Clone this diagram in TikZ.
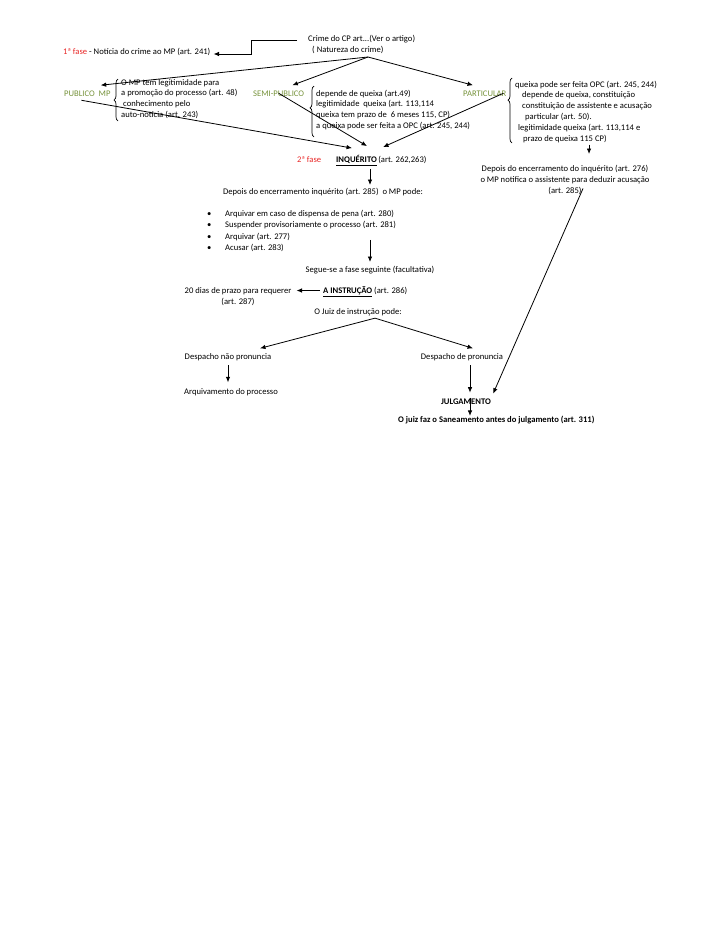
\documentclass[tikz,border=0pt]{standalone}
\usepackage{fontspec}
\setmainfont{Carlito}
\usetikzlibrary{arrows.meta, positioning, calc, decorations.pathreplacing}
\definecolor{faseRed}{RGB}{232,38,38}
\definecolor{natGreen}{RGB}{119,147,60}

\begin{document}
\begin{tikzpicture}[
  % pixel units, y grows downwards like the scanned page
  x=1pt, y=-1pt, font=\fontsize{8.6}{10.8}\selectfont,
  tx/.style={inner sep=0pt, align=left},
  ctx/.style={inner sep=0pt, align=center},
  nat/.style={tx, text=natGreen},
  ar/.style={-{Latex[length=5.5pt,width=4.5pt]}, line width=0.8pt},
  brc/.style={decorate, decoration={brace, amplitude=4pt, aspect=#1}, line width=0.7pt},
  brc/.default=0.5,
]
\useasboundingbox (0,0) rectangle (728,943);
% first phase (multi-line nodes sit on the baseline of their last line)
\node[tx, anchor=base west] (crime) at (308,52.8) {Crime do CP art...(Ver o artigo)\\[1pt]\hspace*{4pt}( Natureza do crime)};
\node[tx, anchor=base west] (noticia) at (63,54) {\textcolor{faseRed}{1ª fase} - Notícia do crime ao MP (art. 241)};
\draw[ar] ($(crime.base west)+(-11,-12.8)$) -| ($(noticia.base east)+(41,0)$) -- ($(noticia.base east)+(3,0)$);
\coordinate (natfoot) at ($(crime.base west)+(60,4.2)$);
% nature of the crime
\node[nat, anchor=base west] (pubmp) at (64,96) {PUBLICO\ \ MP};
\draw[brc] (118,121) -- (118,79);
\node[tx, anchor=base west] (pubdet) at (121,117.4) {O MP tem legitimidade para\\a promoção do processo\ (art. 48)\\\hspace*{2pt}conhecimento pelo\\auto-notícia (art. 243)};
\node[nat, anchor=base west] (semi) at (253,96) {SEMI-PUBLICO};
\draw[brc=0.57] (314,137) -- (314,86);
\node[tx, anchor=base west] (semidet) at (316,128.4) {depende de queixa (art.49)\\legitimidade\ \ queixa (art. 113,114\\queixa tem prazo de\ \ 6 meses 115, CP)\\a queixa pode ser feita a OPC (art. 245, 244)};
\node[nat, anchor=base west] (part) at (463,96) {PARTICULAR};
\draw[brc=0.66] (512,143) -- (512,78);
\node[tx, anchor=base west] (partdet) at (515,141) {queixa pode ser feita OPC (art. 245, 244)\\\hspace*{7pt}depende de queixa, constituição\\\hspace*{7pt}constituição de assistente e acusação\\\hspace*{10pt}particular (art. 50).\\\hspace*{3pt}legitimidade queixa (art. 113,114 e\\\hspace*{8pt}prazo de queixa 115 CP)};
\draw[ar] (natfoot) -- ([xshift=-10pt,yshift=5pt]pubmp.north east);
\draw[ar] (natfoot) -- ([xshift=-12pt,yshift=5pt]semi.north east);
\draw[ar] (natfoot) -- ([xshift=10pt,yshift=5pt]part.north west);
% second phase
\node[tx, anchor=base west, text=faseRed] (fase2) at (297,162.5) {2ª fase};
\node[tx, anchor=base west] (inq) at (336,162.5) {\underline{\textbf{INQUÉRITO}}\,(art. 262,263)};
\draw[ar] ([xshift=-6pt,yshift=-4pt]pubmp.south) -- ($(inq.north west)+(16,-7)$);
\draw[ar] (semi.center) -- ($(inq.north west)+(31,-9)$);
\draw[ar] ([xshift=-3pt]part.east) -- ($(inq.north west)+(47,-8)$);
\node[ctx, anchor=base] (encerr) at (565,193.1) {Depois do encerramento do inquérito (art. 276)\\o MP notifica o assistente para deduzir acusação\\(art. 285)};
\draw[ar] ($(partdet.south)+(3,2)$) -- ($(partdet.south |- encerr.north)+(3,-11)$);
\node[ctx, anchor=base] (mppode) at (323,194.5) {Depois do encerramento inquérito (art. 285)\ \ o MP pode:};
\draw[ar] ($(inq.south west)+(34,3)$) -- ($(inq.south west |- mppode.north)+(34,-3)$);
\node[tx, anchor=base west, font=\fontsize{8.6}{11.3}\selectfont] (mpopts) at (207,250.4) {%
  \makebox[18pt][l]{\textbullet}Arquivar em caso de dispensa de pena (art. 280)\\
  \makebox[18pt][l]{\textbullet}Suspender provisoriamente o processo (art. 281)\\
  \makebox[18pt][l]{\textbullet}Arquivar (art. 277)\\
  \makebox[18pt][l]{\textbullet}Acusar (art. 283)};
\node[ctx, anchor=base] (segue) at (370,272.5) {Segue-se a fase seguinte (facultativa)};
\draw[ar] ($(segue.north |- mpopts.east)+(0,9)$) -- ($(segue.north)+(0,-4)$);
% instruction
\node[tx, anchor=base west] (instr) at (323,293.5) {\underline{\textbf{A INSTRUÇÃO}} (art. 286)};
\node[ctx, anchor=base] (prazo) at (238,304.3) {20 dias de prazo para requerer\\(art. 287)};
\draw[ar] ([xshift=-3pt,yshift=3pt]instr.base west) -- ($(prazo.east |- instr.base west)+(5,-3)$);
\node[ctx, anchor=base] (juiz) at (358,314.5) {O Juiz de instrução pode:};
\coordinate (juizfoot) at ($(juiz.south)+(17,2)$);
\node[ctx, anchor=base] (naopron) at (228,359.5) {Despacho não pronuncia};
\node[ctx, anchor=base] (pron) at (462,359.5) {Despacho de pronuncia};
\draw[ar] (juizfoot) -- ($(naopron.north)+(32,-5)$);
\draw[ar] (juizfoot) -- ($(pron.north)+(11,-5)$);
\node[ctx, anchor=base] (arquiv) at (231,394.5) {Arquivamento do processo};
\draw[ar] ($(naopron.south)+(0,4)$) -- ($(naopron.south |- arquiv.north)+(0,-6)$);
% trial
\node[ctx, anchor=base] (julg) at (466,404.5) {\textbf{JULGAMENTO}};
\draw[ar] ($(pron.south)+(8,4)$) -- ($(pron.south |- julg.north)+(8,-6)$);
\draw[ar] ($(encerr.south)+(18,-6)$) -- ($(julg.north east)+(2,-5)$);
\node[tx, anchor=base west] (saneam) at (398,422.5) {\textbf{O juiz faz o Saneamento antes do julgamento (art. 311)}};
\draw[ar] ($(julg.north)+(4,-1)$) -- ($(julg.north |- saneam.north)+(4,0)$);
\end{tikzpicture}
\end{document}
